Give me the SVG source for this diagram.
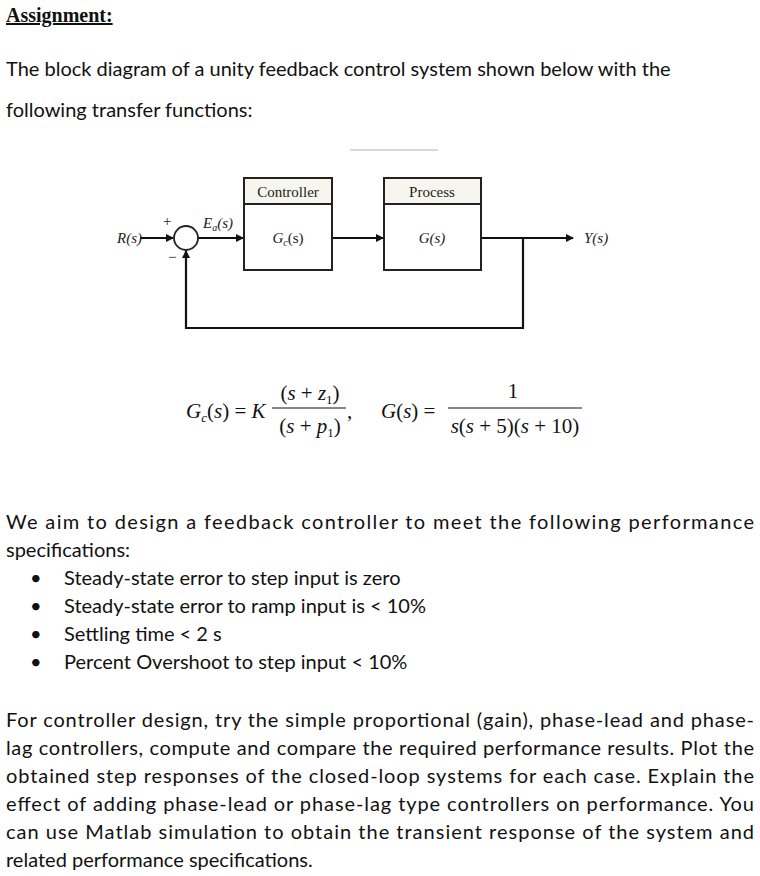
<svg xmlns="http://www.w3.org/2000/svg" width="760" height="876" viewBox="0 0 760 876">
<style>
.b{font-family:Lato,"Open Sans",sans-serif;font-size:20px;fill:#111}
.m{font-family:"Liberation Serif",serif;fill:#111}
.d{font-family:"Liberation Serif",serif;font-size:15px;fill:#222}
.ln{stroke:#111;stroke-width:2.2;fill:none}
.bx{fill:#fff;stroke:#222;stroke-width:2}
</style>
<defs><marker id="a" markerWidth="8" markerHeight="8" refX="7" refY="4" orient="auto" markerUnits="userSpaceOnUse"><path d="M0,0L8,4L0,8z" fill="#111"/></marker></defs>
<rect width="760" height="876" fill="#fff"/>
<text x="6" y="22" class="m" font-size="20" font-weight="bold" text-decoration="underline">Assignment:</text>
<text x="6" y="76" class="b">The block diagram of a unity feedback control system shown below with the</text>
<text x="6" y="117" class="b">following transfer functions:</text>
<line x1="350" y1="150" x2="438" y2="150" stroke="#ccc" stroke-width="1.5"/>
<g id="connectors">
<line x1="140" y1="238" x2="173" y2="238" class="ln" marker-end="url(#a)"/>
<line x1="198" y1="238" x2="243" y2="238" class="ln" marker-end="url(#a)"/>
<line x1="332" y1="238" x2="383" y2="238" class="ln" marker-end="url(#a)"/>
<line x1="481" y1="238" x2="573" y2="238" class="ln" marker-end="url(#a)"/>
<polyline points="523,238 523,328 186,328 186,251" class="ln" marker-end="url(#a)"/>
</g>
<g id="sum"><circle cx="186" cy="238" r="12" fill="#fff" stroke="#222" stroke-width="1.8"/>
<text x="163" y="226" class="d" font-size="13">+</text><text x="168" y="262" class="d" font-size="13">−</text></g>
<text x="117" y="243" class="d" font-style="italic" fill="#666" font-size="13">R(s)</text>
<text x="203" y="228" class="d" font-style="italic">E<tspan font-size="10" dy="3">a</tspan><tspan dy="-3">(s)</tspan></text>
<text x="584" y="243" class="d" font-style="italic" fill="#666" font-size="13">Y(s)</text>
<g id="controller"><rect x="244" y="178" width="88" height="92" class="bx"/><rect x="245" y="179" width="86" height="25" fill="#f6f6ee"/><line x1="244" y1="204" x2="332" y2="204" stroke="#222" stroke-width="2"/>
<text x="288" y="197" class="d" text-anchor="middle">Controller</text>
<text x="288" y="243" class="d" text-anchor="middle"><tspan font-style="italic">G</tspan><tspan font-size="10" dy="3" font-style="italic">c</tspan><tspan dy="-3">(s)</tspan></text></g>
<g id="process"><rect x="384" y="178" width="97" height="92" class="bx"/><rect x="385" y="179" width="95" height="25" fill="#f6f6ee"/><line x1="384" y1="204" x2="481" y2="204" stroke="#222" stroke-width="2"/>
<text x="432" y="197" class="d" text-anchor="middle">Process</text>
<text x="432" y="243" class="d" text-anchor="middle" font-style="italic">G(s)</text></g>
<g id="formula">
<text x="186" y="418" class="m" font-size="21"><tspan font-style="italic">G</tspan><tspan font-size="13" dy="4" font-style="italic">c</tspan><tspan dy="-4">(</tspan><tspan font-style="italic">s</tspan>) = <tspan font-style="italic">K</tspan></text>
<line x1="272" y1="408" x2="346" y2="408" stroke="#111" stroke-width="1.2"/>
<text x="310" y="400" class="m" font-size="21" text-anchor="middle">(<tspan font-style="italic">s</tspan> + <tspan font-style="italic">z</tspan><tspan font-size="13" dy="4">1</tspan><tspan dy="-4">)</tspan></text>
<text x="310" y="433" class="m" font-size="21" text-anchor="middle">(<tspan font-style="italic">s</tspan> + <tspan font-style="italic">p</tspan><tspan font-size="13" dy="4">1</tspan><tspan dy="-4">)</tspan></text>
<text x="347" y="418" class="m" font-size="21">,</text>
<text x="381" y="418" class="m" font-size="21"><tspan font-style="italic">G</tspan>(<tspan font-style="italic">s</tspan>) =</text>
<line x1="448" y1="408" x2="582" y2="408" stroke="#111" stroke-width="1.2"/>
<text x="513" y="398" class="m" font-size="21" text-anchor="middle">1</text>
<text x="515" y="433" class="m" font-size="21" text-anchor="middle"><tspan font-style="italic">s</tspan>(<tspan font-style="italic">s</tspan> + 5)(<tspan font-style="italic">s</tspan> + 10)</text>
</g>
<text x="6" y="529" class="b" textLength="748" lengthAdjust="spacing">We aim to design a feedback controller to meet the following performance</text>
<text x="6" y="557" class="b">specifications:</text>
<g class="b">
<text x="30" y="585">•</text><text x="64" y="585">Steady-state error to step input is zero</text>
<text x="30" y="613">•</text><text x="64" y="613">Steady-state error to ramp input is &lt; 10%</text>
<text x="30" y="641">•</text><text x="64" y="641">Settling time &lt; 2 s</text>
<text x="30" y="669">•</text><text x="64" y="669">Percent Overshoot to step input &lt; 10%</text>
</g>
<text x="6" y="727" class="b" textLength="748" lengthAdjust="spacing">For controller design, try the simple proportional (gain), phase-lead and phase-</text>
<text x="6" y="755" class="b" textLength="748" lengthAdjust="spacing">lag controllers, compute and compare the required performance results. Plot the</text>
<text x="6" y="783" class="b" textLength="748" lengthAdjust="spacing">obtained step responses of the closed-loop systems for each case. Explain the</text>
<text x="6" y="811" class="b" textLength="748" lengthAdjust="spacing">effect of adding phase-lead or phase-lag type controllers on performance. You</text>
<text x="6" y="839" class="b" textLength="748" lengthAdjust="spacing">can use Matlab simulation to obtain the transient response of the system and</text>
<text x="6" y="867" class="b">related performance specifications.</text>
</svg>
